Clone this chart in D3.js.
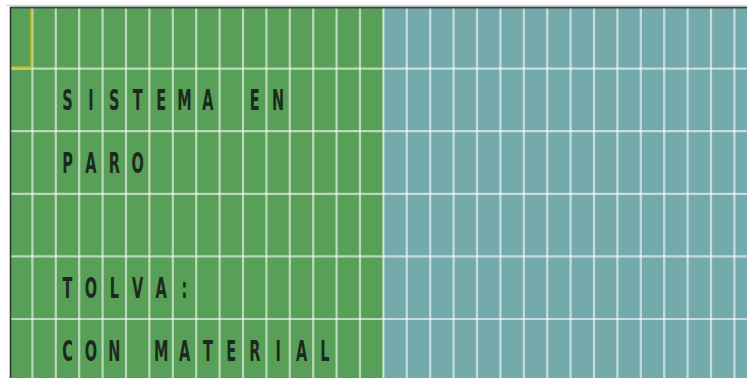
<!DOCTYPE html>
<html><head><meta charset="utf-8">
<script src="https://cdn.jsdelivr.net/npm/d3@7"></script>
<style>html,body{margin:0;padding:0;background:#fff;overflow:hidden}</style>
</head><body>
<script>
// Display data
const columnCount = 32;            // character cells per row
const rowCount = 6;                // text rows
const greenColumns = 16;           // columns in the green (left) panel
const textRows = [1, 2, 4, 5];     // row index of each text line
const textLines = ["SISTEMA EN", "PARO", "TOLVA:", "CON MATERIAL"];
const textStartColumn = [2, 2, 2, 2];
const cursorCell = [0, 0];         // [column, row]

const W = 747, H = 378;
const svg = d3.select("body").append("svg").attr("width", W).attr("height", H);

const x = d3.scaleLinear().domain([0, columnCount]).range([9, 9 + columnCount * 23.4]);
const y = d3.scaleLinear().domain([0, rowCount]).range([6, 6 + rowCount * 62.6]);

const x0 = 11, y0 = 8;
// panels
svg.append("rect").attr("x", x0).attr("y", y0).attr("width", x(greenColumns) - x0).attr("height", H - y0).attr("fill", "#589f57");
svg.append("rect").attr("x", x(greenColumns)).attr("y", y0).attr("width", W - x(greenColumns)).attr("height", H - y0).attr("fill", "#74aaab");

// grid lines
const g = svg.append("g").attr("stroke", "#ffffff").attr("stroke-opacity", 0.6).attr("stroke-width", 2.2);
g.selectAll("line.v").data(d3.range(1, columnCount)).join("line")
  .attr("x1", d => x(d)).attr("x2", d => x(d)).attr("y1", y0).attr("y2", H);
g.selectAll("line.h").data(d3.range(1, rowCount)).join("line")
  .attr("x1", x0).attr("x2", W).attr("y1", d => y(d)).attr("y2", d => y(d));

// cursor
const cx = cursorCell[0], cy = cursorCell[1];
svg.append("path")
  .attr("d", `M${x(cx + 1) - 1},${y0} V${y(cy + 1) - 1} H${x0}`)
  .attr("fill", "none").attr("stroke", "#cfc020").attr("stroke-width", 2);

// border
svg.append("line").attr("x1", 10).attr("x2", W).attr("y1", 7.5).attr("y2", 7.5).attr("stroke", "#3c4a44").attr("stroke-width", 2);
svg.append("line").attr("x1", 6).attr("x2", W).attr("y1", 5.5).attr("y2", 5.5).attr("stroke", "#d8d8d8").attr("stroke-width", 1.5);
svg.append("line").attr("x1", 10.5).attr("x2", 10.5).attr("y1", 7).attr("y2", H).attr("stroke", "#2e3a33").attr("stroke-width", 1.6);

// text characters
const chars = [];
textLines.forEach((line, i) => {
  Array.from(line).forEach((ch, k) => {
    if (ch !== " ") chars.push({ch, col: textStartColumn[i] + k, row: textRows[i]});
  });
});
svg.append("g").selectAll("text").data(chars).join("text")
  .attr("transform", d => `translate(${(x(d.col) + x(d.col + 1)) / 2},${(y(d.row) + y(d.row + 1)) / 2 + 10.5}) scale(0.5,1)`)
  .attr("text-anchor", "middle")
  .attr("font-family", "'DejaVu Sans', sans-serif")
  .attr("font-weight", "bold")
  .attr("font-size", 29)
  .attr("fill", "#1c2a1d")
  .text(d => d.ch);
</script>
</body></html>
